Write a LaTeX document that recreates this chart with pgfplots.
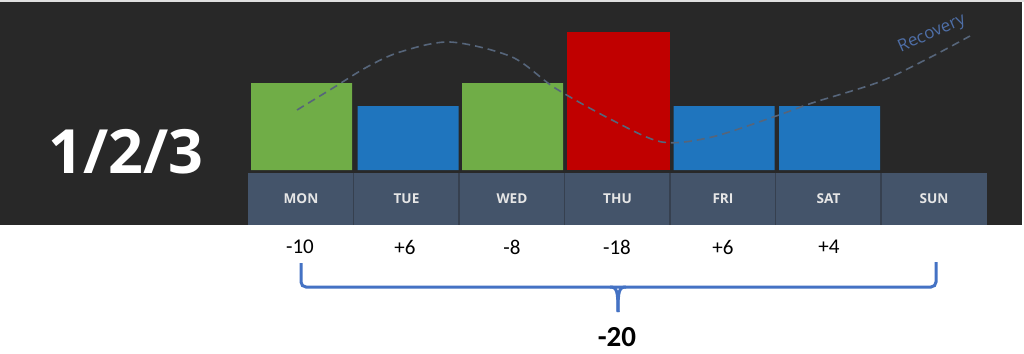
\documentclass[border=0pt]{standalone}
\usepackage{pgfplots}
\pgfplotsset{compat=1.18}
\usepackage{fontspec}
\setmainfont{Carlito}
\newfontfamily\os{Open Sans}
\definecolor{bg}{HTML}{282828}
\definecolor{boxc}{HTML}{44546A}
\definecolor{sepc}{HTML}{36404F}
\definecolor{grn}{HTML}{70AD47}
\definecolor{blu}{HTML}{1F75BE}
\definecolor{rd}{HTML}{C00000}
\definecolor{crv}{HTML}{56657A}
\definecolor{rec}{HTML}{4E6EA6}
\definecolor{brc}{HTML}{4472C4}
\definecolor{lbl}{HTML}{E6E6E6}
\tikzset{daylbl/.style={text=lbl, font=\os\bfseries\fontsize{6.8}{8}\selectfont},
  vallbl/.style={text=black, font=\fontsize{10.5}{12}\selectfont}}
\begin{document}
\begin{tikzpicture}
\begin{axis}[scale only axis, width=512pt, height=176.5pt,
  xmin=0, xmax=1024, ymin=-183, ymax=170, hide axis, clip=false]
\fill[white] (axis cs:0,-183) rectangle (axis cs:1024,170);
\fill[bg] (axis cs:0,-55) rectangle (axis cs:1022,168.5);
\fill[black!12] (axis cs:0,168.5) rectangle (axis cs:1024,170);
% day boxes
\fill[boxc] (axis cs:248,-3) rectangle (axis cs:987,-55);
\draw[sepc, line width=0.8pt] (axis cs:353.5,-3) -- (axis cs:353.5,-55)
  (axis cs:459,-3) -- (axis cs:459,-55)
  (axis cs:564.5,-3) -- (axis cs:564.5,-55)
  (axis cs:670,-3) -- (axis cs:670,-55)
  (axis cs:775.5,-3) -- (axis cs:775.5,-55)
  (axis cs:881,-3) -- (axis cs:881,-55);
% bars
\addplot[ybar, bar width=101, bar shift=0pt, fill=grn, draw=none] coordinates {(301.5,87) (512.5,87)};
\addplot[ybar, bar width=101, bar shift=0pt, fill=blu, draw=none] coordinates {(408,64) (724,64) (829.5,64)};
\addplot[ybar, bar width=103, bar shift=0pt, fill=rd, draw=none] coordinates {(618.5,138)};
% recovery curve
\addplot[smooth, no marks, color=crv, line width=0.8pt, dash pattern=on 4pt off 2.5pt] coordinates {
(297,60) (333,82) (367,103) (400,118) (450,128) (512,113) (555,82) (612,50) (662,28) (712,33) (779,55) (812,67) (879,88) (929,112) (970,134)};
\node[rotate=24, text=rec, font=\os\fontsize{8.5}{10}\selectfont] at (axis cs:932,136) {Recovery};
% big label
\node[text=white, font=\os\bfseries\fontsize{30.5}{32}\selectfont] at (axis cs:126,18) {1/2/3};
% day labels
\node[daylbl] at (axis cs:301,-29) {MON};
\node[daylbl] at (axis cs:406.5,-29) {TUE};
\node[daylbl] at (axis cs:512,-29) {WED};
\node[daylbl] at (axis cs:617.5,-29) {THU};
\node[daylbl] at (axis cs:723,-29) {FRI};
\node[daylbl] at (axis cs:828.5,-29) {SAT};
\node[daylbl] at (axis cs:934,-29) {SUN};
% values
\node[vallbl] at (axis cs:300,-77) {-10};
\node[vallbl] at (axis cs:405,-77) {+6};
\node[vallbl] at (axis cs:512,-77) {-8};
\node[vallbl] at (axis cs:617,-77) {-18};
\node[vallbl] at (axis cs:723,-77) {+6};
\node[vallbl] at (axis cs:829,-77) {+4};
% brace
\draw[brc, line width=1.5pt, rounded corners=2.5pt] (axis cs:301,-93) -- (axis cs:301,-117) -- (axis cs:936,-117) -- (axis cs:936,-92);
\draw[brc, line width=1.5pt] (axis cs:610,-117) .. controls (axis cs:617,-117) and (axis cs:618,-121) .. (axis cs:618,-142);
\draw[brc, line width=1.5pt] (axis cs:626,-117) .. controls (axis cs:619,-117) and (axis cs:618,-121) .. (axis cs:618,-142);
\node[text=black, font=\bfseries\fontsize{14.5}{16}\selectfont] at (axis cs:617,-167) {-20};
\end{axis}
\end{tikzpicture}
\end{document}
